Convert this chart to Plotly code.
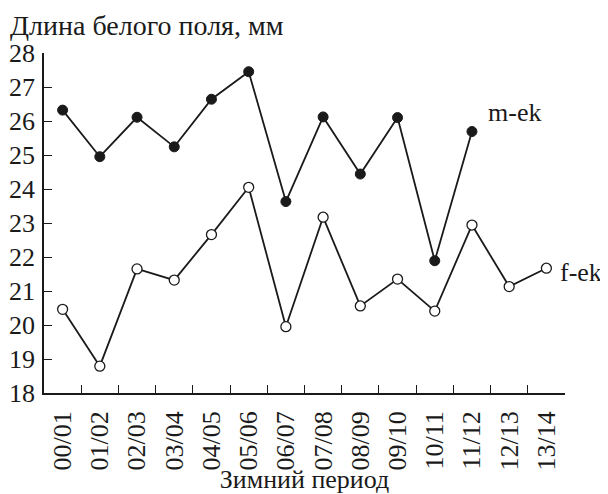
import plotly.graph_objects as go

periods = ["00/01", "01/02", "02/03", "03/04", "04/05", "05/06", "06/07",
           "07/08", "08/09", "09/10", "10/11", "11/12", "12/13", "13/14"]
m_ek = [26.32, 24.95, 26.11, 25.24, 26.64, 27.45, 23.63,
        26.12, 24.44, 26.10, 21.89, 25.69, None, None]
f_ek = [20.46, 18.79, 21.65, 21.32, 22.66, 24.05, 19.95,
        23.17, 20.56, 21.35, 20.41, 22.94, 21.13, 21.67]

FONT = "Liberation Serif"
FS = 26
INK = "#1a1a1a"
W, H = 600, 486  # page body adds an 8px margin

fig = go.Figure()
fig.add_trace(go.Scatter(
    x=periods, y=m_ek, mode="lines+markers", name="m-ek",
    line=dict(color=INK, width=1.8),
    marker=dict(symbol="circle", size=10, color=INK,
                line=dict(color=INK, width=1)),
    cliponaxis=False, showlegend=False))
fig.add_trace(go.Scatter(
    x=periods, y=f_ek, mode="lines+markers", name="f-ek",
    line=dict(color=INK, width=1.8),
    marker=dict(symbol="circle", size=10, color="white",
                line=dict(color=INK, width=1.3)),
    cliponaxis=False, showlegend=False))

last_m = max(i for i, v in enumerate(m_ek) if v is not None)
last_f = max(i for i, v in enumerate(f_ek) if v is not None)
fig.add_annotation(x=periods[last_m], y=m_ek[last_m], text="m-ek",
                   showarrow=False, xanchor="left", yanchor="middle",
                   xshift=14, yshift=19,
                   font=dict(family=FONT, size=FS, color=INK))
fig.add_annotation(x=periods[last_f], y=f_ek[last_f], text="f-ek",
                   showarrow=False, xanchor="left", yanchor="middle",
                   xshift=12, yshift=-4,
                   font=dict(family=FONT, size=FS, color=INK))

fig.update_layout(
    width=W, height=H,
    margin=dict(l=36, r=43, t=45, b=101, pad=0, autoexpand=False),
    paper_bgcolor="white", plot_bgcolor="white",
    font=dict(family=FONT, size=FS, color=INK),
    title=dict(text="Длина белого поля, мм", x=2 / W, xanchor="left",
               xref="container", y=1 - 17 / H, yanchor="middle",
               yref="container", automargin=False,
               font=dict(family=FONT, size=28, color=INK)),
)
fig.update_xaxes(
    type="category", tickson="boundaries", ticks="inside", ticklen=8,
    tickwidth=1.2, tickcolor=INK, automargin=False,
    showline=True, linecolor=INK, linewidth=1.5,
    showgrid=False, zeroline=False, tickangle=-90,
    ticklabelstandoff=6,
    range=[-0.5, len(periods) - 0.5],
    title=dict(text="Зимний период", standoff=4,
               font=dict(family=FONT, size=FS)),
    tickfont=dict(family=FONT, size=FS),
)
fig.update_yaxes(
    range=[18, 28], dtick=1, ticks="inside", ticklen=8,
    tickwidth=1.2, tickcolor=INK, automargin=False,
    showline=True, linecolor=INK, linewidth=1.5,
    showgrid=False, zeroline=False,
    ticklabelstandoff=2,
    tickfont=dict(family=FONT, size=FS),
)

fig.write_html("out.html")
